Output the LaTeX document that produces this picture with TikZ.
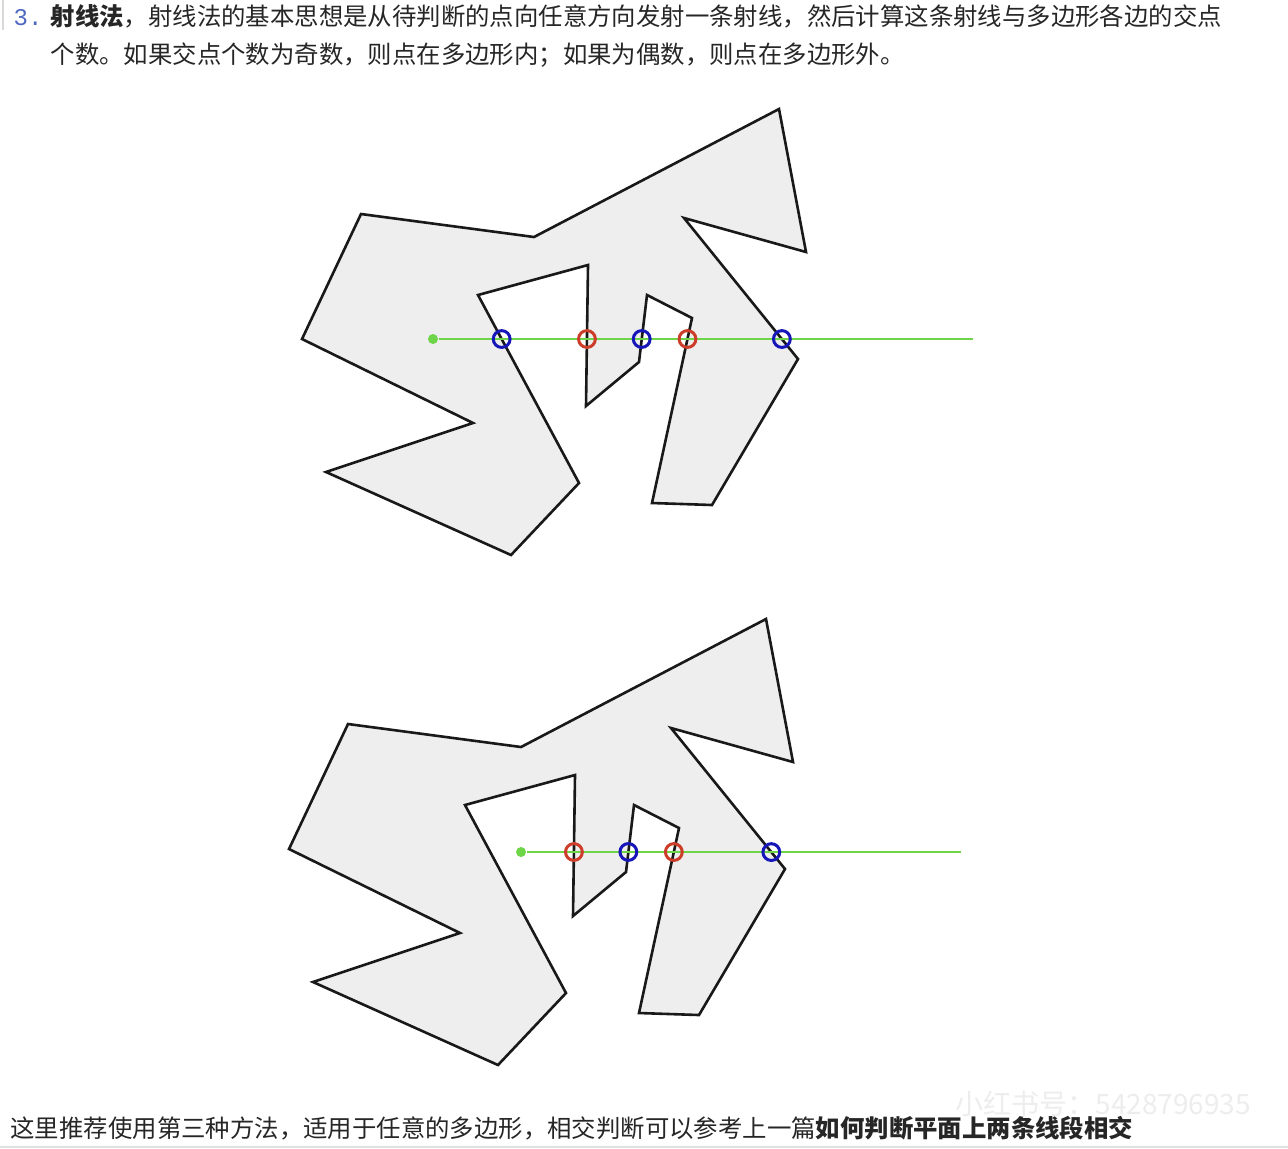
\documentclass[tikz,border=0pt]{standalone}
\usepackage{fontspec}
\usepackage{tikz}
\setmainfont{Noto Sans CJK SC}
\newfontfamily\numfont{Liberation Mono}

\definecolor{polyfill}{RGB}{238,238,238}
\definecolor{raygreen}{RGB}{110,212,72}
\definecolor{hitblue}{RGB}{22,22,185}
\definecolor{hitred}{RGB}{205,62,42}
\definecolor{numblue}{RGB}{80,105,195}

\begin{document}
\begin{tikzpicture}[x=0.5pt, y=-0.5pt, semithick]
\tikzstyle{poly}=[draw=black!90, line width=1.3pt, fill=polyfill]
\tikzstyle{ray}=[draw=raygreen, line width=1.2pt]
\tikzstyle{origin}=[circle, fill=raygreen, inner sep=0pt, minimum size=5pt]
\tikzstyle{hit}=[circle, draw, line width=1.5pt, inner sep=0pt, minimum size=8.4pt]
\tikzstyle{line}=[anchor=base west, inner sep=0pt, text=black!85, font=\fontsize{12.2}{14}\selectfont]

\useasboundingbox (0,0) rectangle (1288,1148);

\foreach \pre/\dx/\dy in {a/0/0, b/-13/510}
  \foreach \n/\x/\y in {1/779/109, 2/806/252, 3/684/218, 4/798/359, 5/712/505, 6/652/503, 7/692/318, 8/647/295, 9/639/362, 10/586/406, 11/588/265, 12/478/295, 13/579/483, 14/511/555, 15/326/472, 16/473/423, 17/302/339, 18/361/214, 19/534/237}
    \coordinate (\pre\n) at (\x+\dx, \y+\dy);

\draw[poly] (a1) \foreach \n in {2,...,19} {-- (a\n)} -- cycle;
\draw[poly] (b1) \foreach \n in {2,...,19} {-- (b\n)} -- cycle;

% upper ray: five crossings
\node[origin] (s1) at (433,339) {};
\coordinate (e1) at (973,339);
\draw[ray] (s1) -- (e1);
\node[hit, draw=hitblue] (h11) at (intersection of a12--a13 and s1.center--e1) {};
\node[hit, draw=hitred]  (h12) at (intersection of a10--a11 and s1.center--e1) {};
\node[hit, draw=hitblue] (h13) at (intersection of a8--a9 and s1.center--e1) {};
\node[hit, draw=hitred]  (h14) at (intersection of a6--a7 and s1.center--e1) {};
\node[hit, draw=hitblue] (h15) at (intersection of a3--a4 and s1.center--e1) {};

% lower ray: four crossings
\node[origin] (s2) at (521,852) {};
\coordinate (e2) at (961,852);
\draw[ray] (s2) -- (e2);
\node[hit, draw=hitred]  (h21) at (intersection of b10--b11 and s2.center--e2) {};
\node[hit, draw=hitblue] (h22) at (intersection of b8--b9 and s2.center--e2) {};
\node[hit, draw=hitred]  (h23) at (intersection of b6--b7 and s2.center--e2) {};
\node[hit, draw=hitblue] (h24) at (intersection of b3--b4 and s2.center--e2) {};

\draw[black!15, line width=0.8pt] (3,0) -- (3,30);
\node[line, text=numblue, font=\numfont\fontsize{12}{14}\selectfont] (num) at (13,25.5) {3.};
\node[line] (l1) at (50,25.5) {\textbf{射线法}，射线法的基本思想是从待判断的点向任意方向发射一条射线，然后计算这条射线与多边形各边的交点};
\node[line] (l2) at (50,63.5) {个数。如果交点个数为奇数，则点在多边形内；如果为偶数，则点在多边形外。};

\node[line, text=black!7, font=\fontsize{14}{16}\selectfont] (wm) at (955,1114) {小红书号：5428796935};
\node[line] (l3) at (10,1137) {这里推荐使用第三种方法，适用于任意的多边形，相交判断可以参考上一篇\textbf{如何判断平面上两条线段相交}};
\draw[black!12, line width=1pt] (0,1147) -- (1288,1147);
\end{tikzpicture}
\end{document}
